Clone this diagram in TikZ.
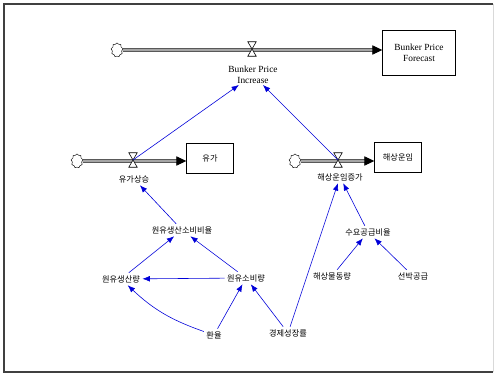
\documentclass[tikz,border=0pt]{standalone}
\usepackage{fontspec}
\setmainfont{Liberation Serif}
\newfontfamily\kr{Noto Sans CJK KR}
\usepackage{tikz}
\usetikzlibrary{positioning, arrows.meta, shapes.symbols, calc}

\begin{document}
\begin{tikzpicture}[x=0.03cm, y=-0.03cm,
    stock/.style={draw, fill=white, minimum width=1.41cm, minimum height=0.9cm, inner sep=1pt, font=\kr\fontsize{7}{8}\selectfont},
    src/.style={cloud, cloud puffs=9, draw, minimum width=0.36cm, minimum height=0.42cm, inner sep=0pt},
    valve/.style={minimum width=0.24cm, minimum height=0.42cm, inner sep=0pt},
    pipe/.style={draw, line width=2.6pt, shorten >=2mm,
        postaction={draw=white, line width=1.4pt, shorten >=2mm},
        postaction={draw, line width=0.5pt, shorten >=0pt, -{Triangle[length=3mm, width=2.8mm]}}},
    var/.style={font=\kr\fontsize{7}{8}\selectfont, inner sep=2pt},
    link/.style={blue!85!black, line width=0.5pt, -{Latex[length=2.2mm, width=1.7mm]}}
]
    \useasboundingbox (0,0) rectangle (496,375);
    % frame
    \draw[gray!30, line width=0.8pt] (493,4) -- (493,372);
    \draw[black!75, line width=1pt] (493,372) -- (4,372) -- (4,4) -- (493,4);

    % bunker price flow
    \node[src] (bc) at (117,50) {};
    \node[stock, minimum width=2.19cm, minimum height=1.35cm, font=\fontsize{8}{9}\selectfont, align=center] (fc) at (419,53) {Bunker Price\\Forecast};
    \node[valve] (bv) at (252,49) {};
    \node[font=\fontsize{8}{9}\selectfont, align=center, inner sep=1pt] (bpi) at (253,75) {Bunker Price\\Increase};

    % oil price flow
    \node[src] (oc) at (77,161) {};
    \node[stock] (op) at (210,158) {유가};
    \node[valve] (ov) at (133,160) {};
    \node[var] (oi) at (134,179) {유가상승};

    % freight flow
    \node[src] (frc) at (295,161) {};
    \node[stock] (fr) at (398,157) {해상운임};
    \node[valve] (fv) at (338,160) {};
    \node[var] (fi) at (340,177) {해상운임증가};

    % auxiliaries
    \node[var] (ratio) at (182,230) {원유생산소비비율};
    \node[var] (prod)  at (121,279) {원유생산량};
    \node[var] (cons)  at (246,278) {원유소비량};
    \node[var] (fx)    at (214,335) {환율};
    \node[var] (gdp)   at (288,333) {경제성장률};
    \node[var] (dsr)   at (368,232) {수요공급비율};
    \node[var] (cargo) at (332,276) {해상물동량};
    \node[var] (ship)  at (413,276) {선박공급};

    % pipes
    \path[pipe] (bc) -- (bc -| fc.west);
    \path[pipe] (oc) -- (oc -| op.west);
    \path[pipe] (frc) -- (frc -| fr.west);
    \foreach \v in {bv, ov, fv}
        \draw[fill=white, line width=0.5pt] (\v.north west) -- (\v.north east) -- (\v.south west) -- (\v.south east) -- cycle;

    % links
    \draw[link] (ov.center) -- (bpi);
    \draw[link] (fv.center) -- (bpi);
    \draw[link] (ratio) -- (oi);
    \draw[link] (prod) -- (ratio);
    \draw[link] (cons) -- (ratio);
    \draw[link] (cons) -- (prod);
    \draw[link] (fx) to[bend left=12] (prod);
    \draw[link] (fx) -- (cons);
    \draw[link] (gdp) -- (cons);
    \draw[link] (gdp) -- (fi);
    \draw[link] (dsr) -- (fi);
    \draw[link] (cargo) -- (dsr);
    \draw[link] (ship) -- (dsr);
\end{tikzpicture}
\end{document}
